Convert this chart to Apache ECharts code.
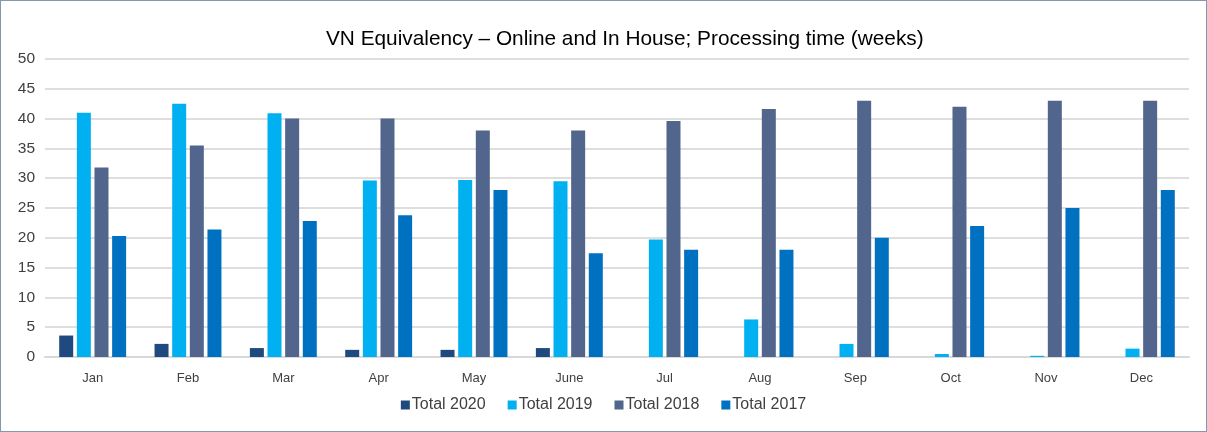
<!DOCTYPE html>
<html>
<head>
<meta charset="utf-8">
<script src="https://cdn.jsdelivr.net/npm/echarts@6/dist/echarts.min.js"></script>
<style>
  html, body { margin: 0; padding: 0; background: #fff; }
  #box { width: 1205px; height: 430px; border: 1px solid #8497b0; }
</style>
</head>
<body>
<div id="box"></div>
<script>
var months = ['Jan', 'Feb', 'Mar', 'Apr', 'May', 'June', 'Jul', 'Aug', 'Sep', 'Oct', 'Nov', 'Dec'];
var total2020 = [3.6, 2.2, 1.5, 1.2, 1.2, 1.5, 0, 0, 0, 0, 0, 0];
var total2019 = [41.0, 42.5, 40.9, 29.6, 29.7, 29.5, 19.7, 6.3, 2.2, 0.5, 0.2, 1.4];
var total2018 = [31.8, 35.5, 40.0, 40.0, 38.0, 38.0, 39.6, 41.6, 43.0, 42.0, 43.0, 43.0];
var total2017 = [20.3, 21.4, 22.8, 23.8, 28.0, 17.4, 18.0, 18.0, 20.0, 22.0, 25.0, 28.0];

var myChart = echarts.init(document.getElementById('box'));
var fontFam = 'Liberation Sans';

function bar(name, data, color) {
    return {
        name: name,
        type: 'bar',
        data: data,
        barWidth: 14,
        barGap: '26%',
        itemStyle: { color: color },
        emphasis: { disabled: true }
    };
}

var option = {
    animation: false,
    title: {
        text: 'VN Equivalency \u2013 Online and In House; Processing time (weeks)',
        left: 320,
        top: 23,
        textStyle: { fontFamily: fontFam, fontSize: 20.8, fontWeight: 'normal', color: '#000' }
    },
    legend: {
        data: ['Total 2020', 'Total 2019', 'Total 2018', 'Total 2017'],
        bottom: 13,
        left: 'center',
        icon: 'rect',
        itemWidth: 9,
        itemHeight: 9,
        itemGap: 22,
        textStyle: { fontFamily: fontFam, fontSize: 16, color: '#404040', padding: [0, 0, 0, -3] }
    },
    grid: {
        left: 44,
        right: 17,
        top: 58,
        bottom: 74
    },
    xAxis: {
        type: 'category',
        data: months,
        axisLine: { lineStyle: { color: '#d9d9d9', width: 2 } },
        axisTick: { show: false },
        axisLabel: { fontFamily: fontFam, fontSize: 13, color: '#404040', margin: 15 }
    },
    yAxis: {
        type: 'value',
        min: 0,
        max: 50,
        interval: 5,
        axisLine: { show: false },
        axisTick: { show: false },
        axisLabel: { fontFamily: fontFam, fontSize: 15.5, color: '#404040', margin: 10 },
        splitLine: { lineStyle: { color: '#dedede', width: 2 } }
    },
    series: [
        bar('Total 2020', total2020, '#1F4A80'),
        bar('Total 2019', total2019, '#00B0F0'),
        bar('Total 2018', total2018, '#51658D'),
        bar('Total 2017', total2017, '#0070C0')
    ]
};
myChart.setOption(option);
</script>
</body>
</html>
